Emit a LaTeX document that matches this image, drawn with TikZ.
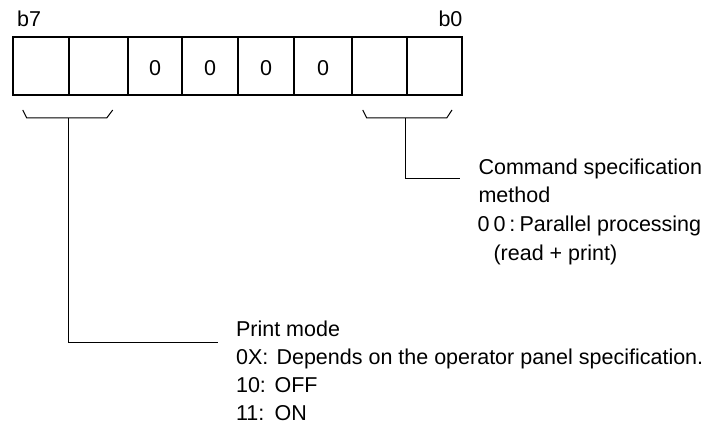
\documentclass[tikz,border=0pt]{standalone}
\usepackage{fontspec}
\setmainfont{Liberation Sans}
\begin{document}
\begin{tikzpicture}[x=1pt,y=-1pt,line width=1.1pt,
  lbl/.style={inner sep=0pt,anchor=base west,font=\fontsize{21.5}{25}\selectfont},
  cellbox/.style={draw,line width=1.2pt},
  brk/.style={draw,line width=1pt}]
\useasboundingbox (0,0) rectangle (716,427);
% register cells
\foreach \a/\b in {13/69,69/128,128/182,182/238,238/294,294/352,352/407,407/462}
  \draw[cellbox] (\a,37) rectangle (\b,95);
\node[lbl,anchor=base] (z1) at (155,76) {0};
\node[lbl,anchor=base] (z2) at (210,76) {0};
\node[lbl,anchor=base] (z3) at (266,76) {0};
\node[lbl,anchor=base] (z4) at (323,76) {0};
\node[lbl] (b7) at (16.5,26.5) {b7};
\node[lbl,anchor=base east] (b0) at (463,26.5) {b0};
% brackets
\draw[brk] (22.7,110) -- (26.7,118) -- (106.7,118) -- (112.7,110);
\draw[brk] (362.7,110) -- (366.7,118) -- (446.7,118) -- (452,110);
\coordinate (lb) at (68,118);
\coordinate (rb) at (405,118);
% right description
\node[lbl] (cmd) at (478,174.5) {Command specification};
\node[lbl] (meth) at (478,203) {method};
\node[lbl] (p00) at (477,232) {0\kern4pt0\kern4pt:};
\node[lbl] (par) at (519,232) {Parallel processing};
\node[lbl] (rp) at (493,260.5) {(read + print)};
\coordinate (re) at (460,179);
\draw[brk] (rb) |- (re);
% bottom description
\node[lbl] (pm) at (235.5,336.5) {Print mode};
\node[lbl] (m0x) at (235.5,364.5) {0X:};
\node[lbl] (dep) at (276,364.5) {Depends on the operator panel specification.};
\node[lbl] (m10) at (235.5,392.5) {10:};
\node[lbl] (off) at (274,392.5) {OFF};
\node[lbl] (m11) at (235.5,420.5) {11:};
\node[lbl] (on) at (274,420.5) {ON};
\coordinate (le) at (218,343);
\draw[brk] (lb) |- (le);
\end{tikzpicture}
\end{document}
